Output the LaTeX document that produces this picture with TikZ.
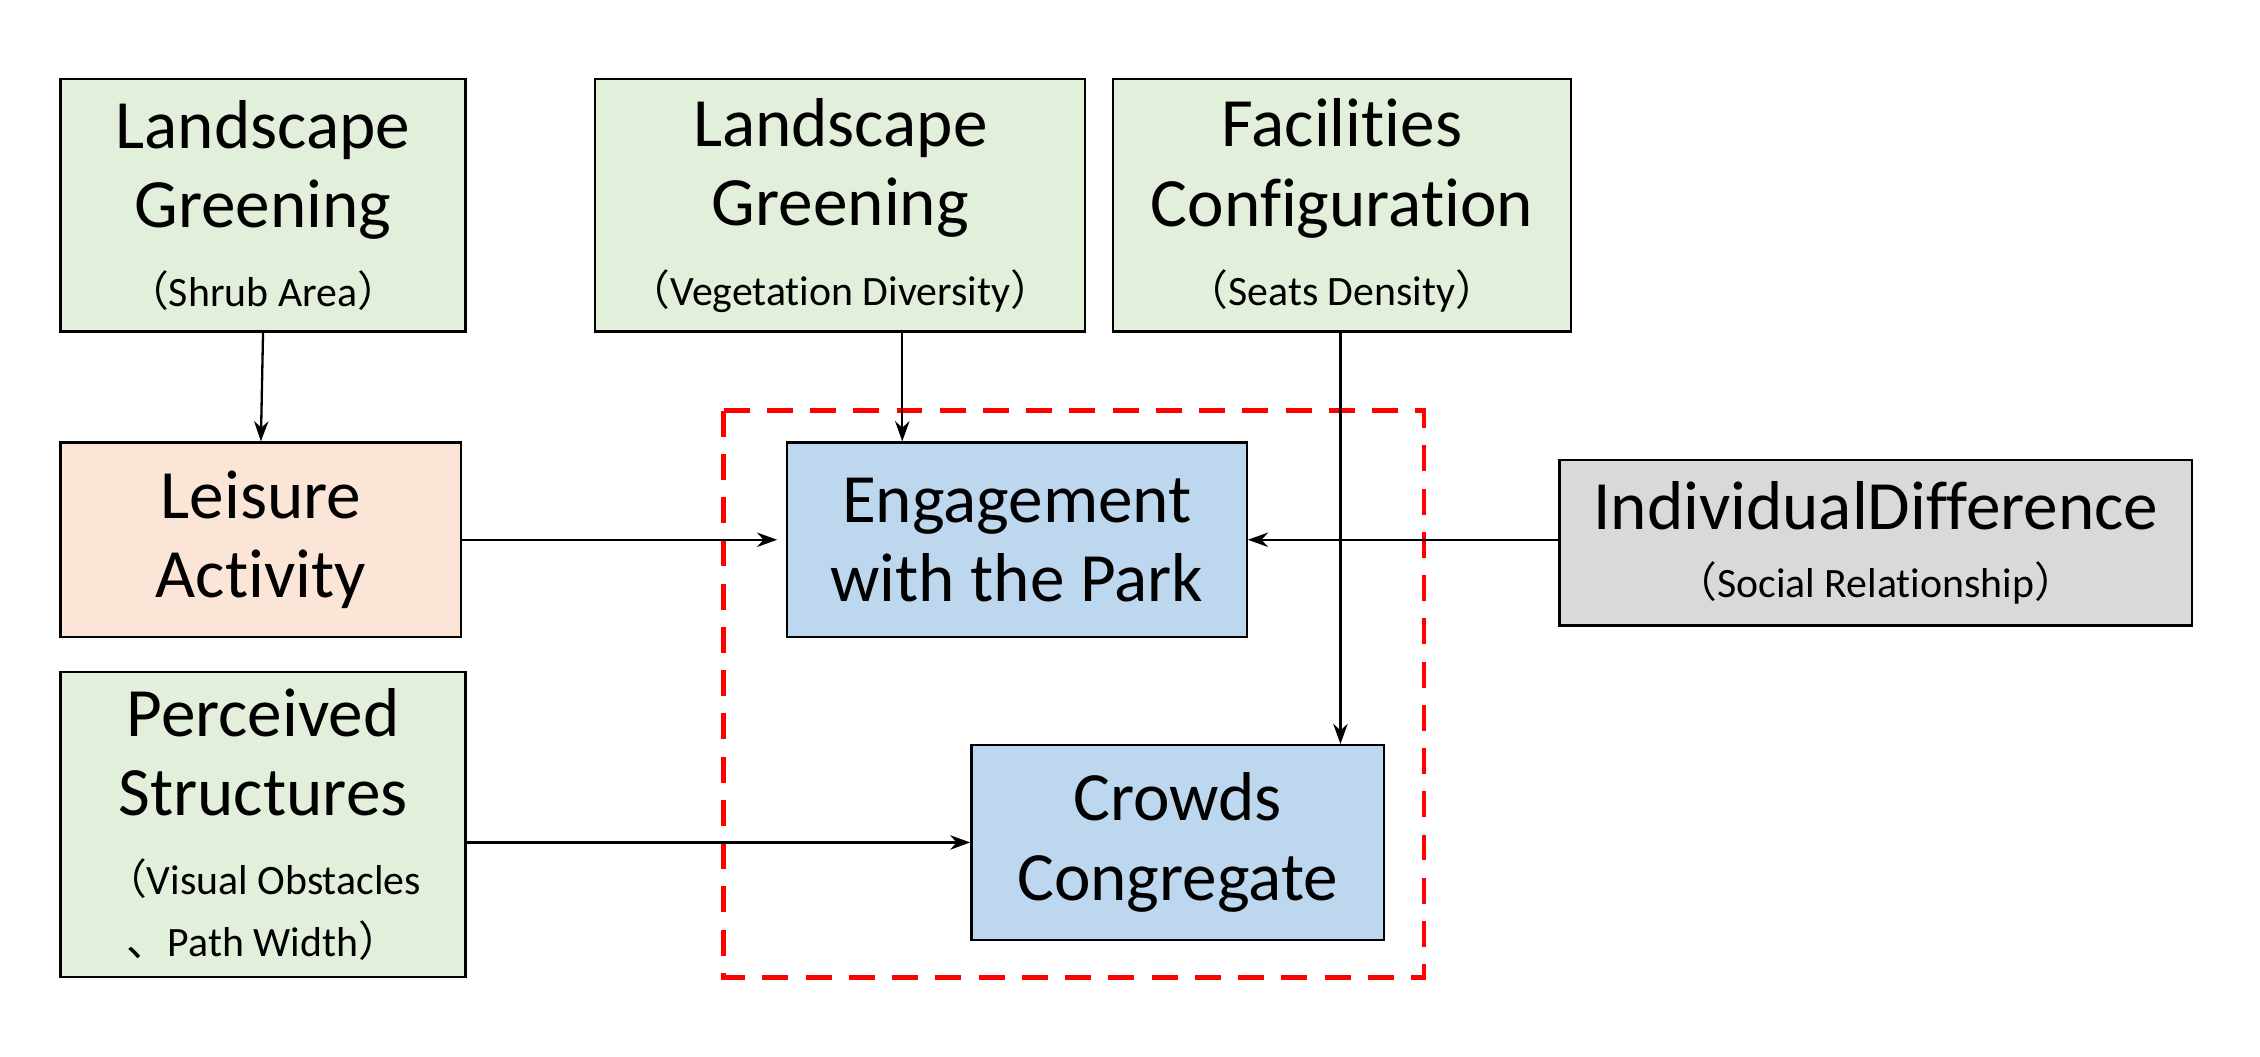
\documentclass[tikz,border=0pt]{standalone}
\usepackage{fontspec}
\setmainfont{Carlito}[Ligatures=NoCommon]
\newfontfamily\cjk{Noto Sans CJK SC}
\usetikzlibrary{arrows.meta}
\definecolor{gfill}{HTML}{E2EFDA}
\definecolor{pfill}{HTML}{FBE5D6}
\definecolor{bfill}{HTML}{BDD7EE}
\definecolor{grfill}{HTML}{D9D9D9}
\newcommand{\lp}{{\cjk （}}
\newcommand{\rp}{{\cjk ）}}
\newcommand{\dun}{{\cjk 、}}
\newcommand{\sub}[1]{{\fontsize{14.5}{18}\selectfont #1}}
\begin{document}
\begin{tikzpicture}[x=0.5pt,y=-0.5pt,
  box/.style={draw=black,line width=0.8pt,align=center,inner sep=0pt,
    font=\fontsize{24}{27.5}\selectfont},
  arr/.style={-{Stealth[length=7pt,width=5pt]},line width=0.8pt}]
\useasboundingbox (0,0) rectangle (1568,733);
\node[box,fill=gfill,minimum width=140.5pt,minimum height=87.5pt] (lg1) at (182.5,142.5)
  {Landscape\\Greening\\\sub{\lp Shrub Area\rp}};
\node[box,fill=gfill,minimum width=170pt,minimum height=87.5pt] (lg2) at (583,142.5)
  {Landscape\\Greening\\\sub{\lp Vegetation Diversity\rp}};
\node[box,fill=gfill,minimum width=159pt,minimum height=87.5pt] (fc) at (931,142.5)
  {Facilities\\Configuration\\\sub{\lp Seats Density\rp}};
\node[box,fill=pfill,minimum width=139pt,minimum height=67.5pt] (la) at (181,374.5)
  {Leisure\\Activity};
\node[box,fill=bfill,minimum width=159.5pt,minimum height=67.5pt] (en) at (705.5,374.5)
  {Engagement\\with the Park};
\node[box,fill=grfill,minimum width=219.5pt,minimum height=57.5pt] (id) at (1301.5,376.5)
  {IndividualDifference\\[-4pt]\sub{\lp Social Relationship\rp}};
\node[box,fill=gfill,minimum width=140.5pt,minimum height=106pt] (ps) at (182.5,572)
  {Perceived\\Structures\\\sub{\lp Visual Obstacles}\\[-6pt]\sub{\dun Path Width\rp}};
\node[box,fill=bfill,minimum width=143pt,minimum height=67.5pt] (cc) at (817,584.5)
  {Crowds\\Congregate};
\draw[red,dashed,line width=1.6pt,dash pattern=on 9pt off 6pt] (502,285) rectangle (988,678);
\draw[arr] (lg1.south) -- (la.north);
\draw[arr] (lg2.south -| 626,0) -- (en.north -| 626,0);
\draw[arr] (fc.south -| 930,0) -- (cc.north -| 930,0);
\draw[arr] (la.east) -- ([xshift=-3pt]en.west);
\draw[arr] (id.west |- en.east) -- (en.east);
\draw[arr] (ps.east |- cc.west) -- (cc.west);
\end{tikzpicture}
\end{document}
